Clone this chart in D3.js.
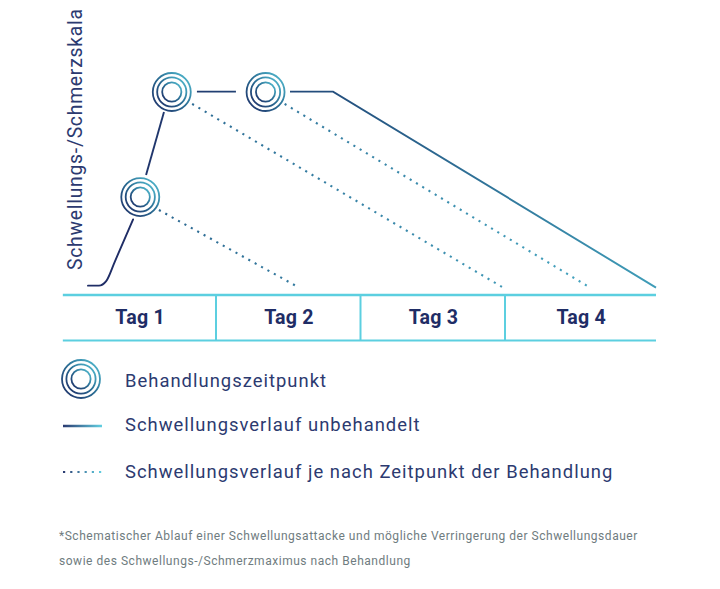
<!DOCTYPE html>
<html>
<head>
<meta charset="utf-8">
<script src="https://cdn.jsdelivr.net/npm/d3@7"></script>
<style>
  html, body { margin: 0; padding: 0; background: #fff; }
  text { font-family: Roboto, sans-serif; }
</style>
</head>
<body>
<div id="chart"></div>
<script>
const WIDTH = 720;
const HEIGHT = 589;

// x in days since the chart's first day line, y on a 0-10 swelling/pain scale
const dayLabels = ['Tag 1', 'Tag 2', 'Tag 3', 'Tag 4'];
const dayEdges = [-0.06, 1, 2, 3, 4.045];
const treatments = [[0.476, 4.59], [0.694, 9.95], [1.343, 9.95]];
const riseCurve = [[0.114, 0.07], [0.19, 0.07], [0.24, 0.3], [0.3, 1.3], [0.426, 3.45]];
const untreatedSegments = [
  [[0.516, 5.71], [0.64, 8.93]],
  [[0.868, 9.97], [1.138, 9.97]],
  [[1.512, 9.97], [1.81, 9.97], [4.045, -0.03]],
];
const treatedSegments = [
  [[0.605, 3.93], [1.555, 0.05]],
  [[0.835, 9.34], [2.98, 0]],
  [[1.475, 9.34], [3.575, 0.03]],
];
const legendLabels = ['Behandlungszeitpunkt', 'Schwellungsverlauf unbehandelt', 'Schwellungsverlauf je nach Zeitpunkt der Behandlung'];
const yAxisLabel = 'Schwellungs-/Schmerzskala';
const footnotes = [
  '*Schematischer Ablauf einer Schwellungsattacke und mögliche Verringerung der Schwellungsdauer',
  'sowie des Schwellungs-/Schmerzmaximus nach Behandlung',
];
const ringRadii = [19, 14.6, 9.6];

const NAVY = '#1f2d66';
const TEAL = '#3f9db8';
const CYAN = '#5ccfe0';

const x = d3.scaleLinear().domain([1, 3]).range([216, 505]);
const y = d3.scaleLinear().domain([0, 10]).range([287, 91]);

const svg = d3.select('#chart')
  .append('svg')
  .attr('width', WIDTH)
  .attr('height', HEIGHT)
  .style('display', 'block');

const defs = svg.append('defs');

function addGradient(id, attrs, stops) {
  const g = defs.append('linearGradient').attr('id', id);
  Object.entries(attrs).forEach(([k, v]) => g.attr(k, v));
  stops.forEach(([offset, color]) => {
    g.append('stop').attr('offset', offset).attr('stop-color', color);
  });
}

addGradient('chartLine', { gradientUnits: 'userSpaceOnUse', x1: 88, x2: 656, y1: 0, y2: 0 },
  [[0, NAVY], [0.45, '#24517f'], [1, TEAL]]);
addGradient('dotLine', { gradientUnits: 'userSpaceOnUse', x1: 150, x2: 600, y1: 0, y2: 0 },
  [[0, '#2b6690'], [1, '#46a5c0']]);
addGradient('ring', { x1: 0, y1: 1, x2: 1, y2: 0 },
  [[0, '#1f2d66'], [0.5, '#2a6c93'], [1, '#56c3d6']]);
addGradient('legendLine', { gradientUnits: 'userSpaceOnUse', x1: 63, x2: 102, y1: 0, y2: 0 },
  [[0, '#2a3a70'], [1, '#62d0e2']]);

const line = d3.line().x((d) => x(d[0])).y((d) => y(d[1]));
const curved = d3.line().x((d) => x(d[0])).y((d) => y(d[1])).curve(d3.curveMonotoneX);

// rise before first treatment
svg.append('path')
  .attr('d', curved(riseCurve))
  .attr('fill', 'none')
  .attr('stroke', NAVY)
  .attr('stroke-width', 1.9)
  .attr('stroke-linecap', 'round');

svg.selectAll('path.untreated')
  .data(untreatedSegments)
  .join('path')
  .attr('class', 'untreated')
  .attr('d', line)
  .attr('fill', 'none')
  .attr('stroke', 'url(#chartLine)')
  .attr('stroke-width', 1.9);

svg.selectAll('path.treated')
  .data(treatedSegments)
  .join('path')
  .attr('class', 'treated')
  .attr('d', line)
  .attr('fill', 'none')
  .attr('stroke', 'url(#dotLine)')
  .attr('stroke-width', 2.1)
  .attr('stroke-dasharray', '2.1 5.2');

function drawRings(sel, cx, cy) {
  ringRadii.forEach((r) => {
    sel.append('circle')
      .attr('cx', cx)
      .attr('cy', cy)
      .attr('r', r)
      .attr('fill', 'none')
      .attr('stroke', 'url(#ring)')
      .attr('stroke-width', 1.8);
  });
}

treatments.forEach(([d, v]) => drawRings(svg.append('g'), x(d), y(v)));

// y axis label
svg.append('text')
  .attr('transform', 'translate(82,270) rotate(-90)')
  .attr('font-size', 19.4)
  .attr('letter-spacing', 0.72)
  .attr('fill', '#2c3a70')
  .text(yAxisLabel);

// day table
const tableTop = 295;
const tableBottom = 340.5;
[[tableTop, 2.6], [tableBottom, 2]].forEach(([yy, w]) => {
  svg.append('line')
    .attr('x1', x(dayEdges[0]))
    .attr('x2', x(dayEdges[4]))
    .attr('y1', yy)
    .attr('y2', yy)
    .attr('stroke', CYAN)
    .attr('stroke-width', w);
});

svg.selectAll('line.day')
  .data(dayEdges.slice(1, 4))
  .join('line')
  .attr('class', 'day')
  .attr('x1', (d) => x(d))
  .attr('x2', (d) => x(d))
  .attr('y1', tableTop)
  .attr('y2', tableBottom)
  .attr('stroke', CYAN)
  .attr('stroke-width', 2);

svg.selectAll('text.day')
  .data(dayLabels)
  .join('text')
  .attr('class', 'day')
  .attr('x', (d, i) => (x(dayEdges[i]) + x(dayEdges[i + 1])) / 2 + 0.7)
  .attr('y', 324)
  .attr('text-anchor', 'middle')
  .attr('font-size', 19.6)
  .attr('letter-spacing', 0.2)
  .attr('font-weight', 700)
  .attr('fill', NAVY)
  .text((d) => d);

// legend
drawRings(svg.append('g'), 81, 379);
svg.append('line')
  .attr('x1', 63).attr('x2', 102).attr('y1', 426).attr('y2', 426.01)
  .attr('stroke', 'url(#legendLine)').attr('stroke-width', 2.4);
svg.append('line')
  .attr('x1', 63).attr('x2', 104).attr('y1', 472).attr('y2', 472.01)
  .attr('stroke', 'url(#legendLine)').attr('stroke-width', 2.2)
  .attr('stroke-dasharray', '2.2 5');

const legendBaselines = [387, 431, 478];
svg.selectAll('text.legend')
  .data(legendLabels)
  .join('text')
  .attr('class', 'legend')
  .attr('x', 125)
  .attr('y', (d, i) => legendBaselines[i])
  .attr('font-size', 18.4)
  .attr('letter-spacing', 1.02)
  .attr('fill', '#2c3a70')
  .text((d) => d);

const footBaselines = [540, 565];
svg.selectAll('text.foot')
  .data(footnotes)
  .join('text')
  .attr('class', 'foot')
  .attr('x', 59)
  .attr('y', (d, i) => footBaselines[i])
  .attr('font-size', 12)
  .attr('letter-spacing', 0.53)
  .attr('fill', '#6f7c80')
  .text((d) => d);
</script>
</body>
</html>
